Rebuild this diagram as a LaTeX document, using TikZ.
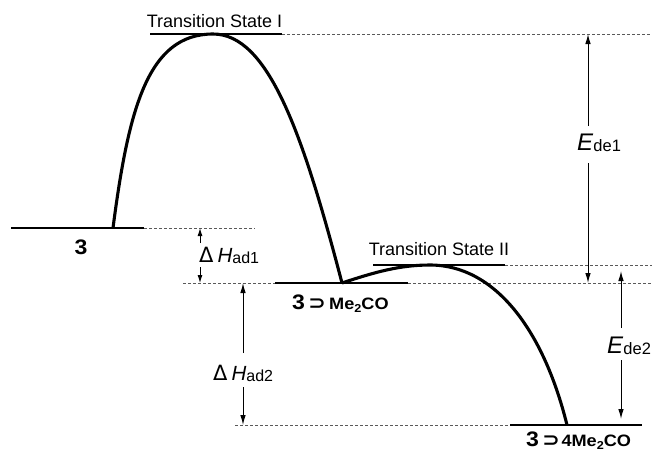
\documentclass[tikz,border=0pt]{standalone}
\usepackage{fontspec}
\usepackage{graphicx}
\setmainfont{Liberation Sans}
\newfontfamily\symfam{DejaVu Sans}
\usetikzlibrary{arrows.meta}
\newcommand\bthree{\fontsize{21}{21}\selectfont\bfseries}
\newcommand\blab{\fontsize{16.5}{16.5}\selectfont\bfseries}
\newcommand\subtwo{\raisebox{-3pt}{\fontsize{11.5}{11.5}\selectfont\bfseries 2}}
\newcommand\supsym{{\symfam\bfseries\fontsize{19}{19}\selectfont ⊃}}
\newcommand\bigsym[1]{{\fontsize{20.5}{20.5}\selectfont #1}}
\newcommand\deltasym{{\symfam\fontsize{21}{21}\selectfont Δ}}
\newcommand\smallsub[1]{\raisebox{-1.5pt}{\fontsize{16}{16}\selectfont #1}}
\begin{document}
\begin{tikzpicture}[x=1pt,y=-1pt,
  level/.style={line width=2.8pt},
  curve/.style={line width=3.1pt},
  guide/.style={black!65, line width=0.9pt, dash pattern=on 3pt off 2pt},
  arr/.style={line width=1pt, -{Latex[length=10pt,width=5.5pt]}},
  sarr/.style={line width=1pt, -{Latex[length=8pt,width=5pt]}},
  tslab/.style={inner sep=0pt, anchor=base, font=\fontsize{18}{18}\selectfont},
  blabel/.style={inner sep=0pt, anchor=base west},
  qlabel/.style={inner sep=0pt, anchor=base west}
]
\useasboundingbox (0,0) rectangle (652,451);

% level end points
\coordinate (t1L) at (150,34);  \coordinate (t1R) at (282,34);  \coordinate (t1P) at (213,34);
\coordinate (s3L) at (11,228);  \coordinate (s3R) at (144,228); \coordinate (s3S) at (113,228);
\coordinate (m1L) at (275,283); \coordinate (m1R) at (408,283); \coordinate (m1S) at (342,283);
\coordinate (t2L) at (373,265); \coordinate (t2R) at (505,265); \coordinate (t2P) at (430,265);
\coordinate (m4L) at (510,425); \coordinate (m4R) at (642,425); \coordinate (m4E) at (567,425);
% dashed guide ends
\coordinate (g1) at (652,34);
\coordinate (g2) at (255,228);
\coordinate (g3a) at (183,283);
\coordinate (g3b) at (652,283);
\coordinate (g4) at (652,265);
\coordinate (g5) at (235,425);

% guides
\draw[guide] (t1R) -- (g1);
\draw[guide] (s3R) -- (g2);
\draw[guide] (g3a) -- (m1L);
\draw[guide] (m1R) -- (g3b);
\draw[guide] (t2R) -- (g4);
\draw[guide] (g5) -- (m4L);

% levels
\draw[level] (t1L) -- (t1R);
\draw[level] (s3L) -- (s3R);
\draw[level] (m1L) -- (m1R);
\draw[level] (t2L) -- (t2R);
\draw[level] (m4L) -- (m4R);

% energy curves
\draw[curve] (s3S) .. controls (128.6,108) and (148,34) .. (t1P)
             .. controls (268,34) and (302.5,132) .. (m1S);
\draw[curve] (m1S) .. controls (375,272) and (400,265) .. (t2P)
             .. controls (495,265) and (543.5,330) .. (m4E);

% labels
\node[tslab] (ts1) at (214.5,27) {Transition State I};
\node[tslab] (ts2) at (439,255) {Transition State II};
\node[inner sep=0pt, anchor=base] (l3) at (81,254) {\scalebox{1.1}[1]{\bthree 3}};
\node[blabel] (l3me) at (292,309) {\scalebox{1.1}[1]{\bthree 3\hspace{3pt}\supsym\hspace{3pt}\blab Me\subtwo CO}};
\node[blabel] (l34me) at (526,446) {\scalebox{1.1}[1]{\bthree 3\hspace{3pt}\supsym\hspace{1.5pt}\blab 4Me\subtwo CO}};

\node[qlabel] (had1) at (199,262) {\deltasym\hspace{4pt}\bigsym{\textit{H}}\smallsub{ad1}};
\node[qlabel] (had2) at (213,380) {\deltasym\hspace{4pt}\bigsym{\textit{H}}\smallsub{ad2}};
\node[qlabel] (ede1) at (577,150) {{\fontsize{24}{24}\selectfont\textit{E}}\raisebox{-1pt}{\fontsize{16.5}{16.5}\selectfont de1}};
\node[qlabel] (ede2) at (607,353) {{\fontsize{24}{24}\selectfont\textit{E}}\raisebox{-1.5pt}{\fontsize{16.5}{16.5}\selectfont de2}};

% arrow starts
\coordinate (a1u) at (200,243);
\coordinate (a1d) at (200,267);
\coordinate (a2u) at (243,353);
\coordinate (a2d) at (243,387);
\coordinate (e1u) at (588,126);
\coordinate (e1d) at (588,163);
\coordinate (e2u) at (621,328);
\coordinate (e2d) at (621,360);

\draw[sarr] (a1u) -- (a1u |- s3R);
\draw[sarr] (a1d) -- (a1d |- m1L);
\draw[arr] (a2u) -- (a2u |- m1L);
\draw[arr] (a2d) -- (a2d |- m4L);
\draw[arr] (e1u) -- (e1u |- t1R);
\draw[arr] (e1d) -- (e1d |- m1R);
\draw[arr, shorten >=6pt] (e2u) -- (e2u |- t2R);
\draw[arr, shorten >=6pt] (e2d) -- (e2d |- m4R);
\end{tikzpicture}
\end{document}
